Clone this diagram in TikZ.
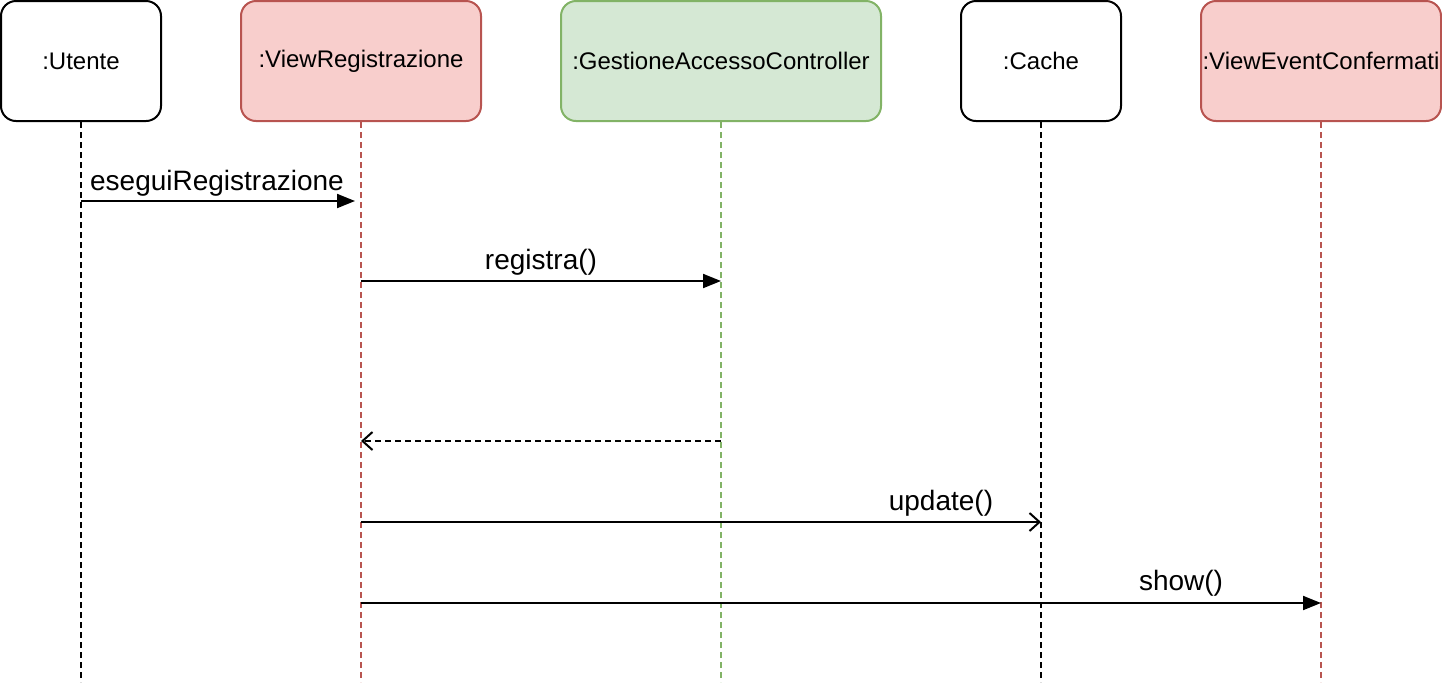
\documentclass[tikz,border=0pt]{standalone}
\usepackage{fontspec}
\setmainfont{Liberation Sans}
\usetikzlibrary{arrows.meta}
\definecolor{redfill}{HTML}{F8CECC}
\definecolor{redline}{HTML}{B85450}
\definecolor{greenfill}{HTML}{D5E8D4}
\definecolor{greenline}{HTML}{82B366}
\begin{document}
\begin{tikzpicture}[x=0.5pt,y=-0.5pt,
  obj/.style={draw=black,fill=white,line width=1pt,rounded corners=7.5pt,
    minimum height=60pt,inner sep=0pt,font=\fontsize{12pt}{14pt}\selectfont},
  redobj/.style={obj,draw=redline,fill=redfill},
  greenobj/.style={obj,draw=greenline,fill=greenfill},
  life/.style={line width=0.9pt,dash pattern=on 3pt off 2pt},
  msg/.style={line width=1pt,-{Triangle[length=9pt,width=7pt]}},
  ret/.style={line width=1pt,dash pattern=on 3pt off 2pt,-{Straight Barb[length=5pt,width=9pt,line width=1pt]}},
  asyn/.style={line width=1pt,-{Straight Barb[length=5pt,width=9pt,line width=1pt]}},
  lbl/.style={font=\fontsize{14pt}{16pt}\selectfont,anchor=base,inner sep=0pt}]
\useasboundingbox (0,0) rectangle (1442,682);
\node[obj,minimum width=80pt] (u) at (81,61) {:Utente};
\node[redobj,minimum width=120pt] (vr) at (361,61) {:ViewRegistrazione};
\node[greenobj,minimum width=160pt] (gc) at (721,61) {:GestioneAccessoController};
\node[obj,minimum width=80pt] (c) at (1041,61) {:Cache};
\node[redobj,minimum width=120pt] (ve) at (1321,61) {:ViewEventConfermati};
\coordinate (ue) at (81,682);
\coordinate (vre) at (361,682);
\coordinate (gce) at (721,682);
\coordinate (ce) at (1041,682);
\coordinate (vee) at (1321,682);
\draw[life,black] (u.south) -- (ue);
\draw[life,redline] (vr.south) -- (vre);
\draw[life,greenline] (gc.south) -- (gce);
\draw[life,black] (c.south) -- (ce);
\draw[life,redline] (ve.south) -- (vee);
% messages
\draw[msg] (u.south |- 0,201) -- ([xshift=-3pt]vr.south |- 0,201);
\node[lbl] (l1) at (217,190) {eseguiRegistrazione};
\draw[msg] (vr.south |- 0,281) -- (gc.south |- 0,281);
\node[lbl] (l2) at (541,269) {registra()};
\draw[ret] (gc.south |- 0,441) -- (vr.south |- 0,441);
\draw[asyn] (vr.south |- 0,522) -- (c.south |- 0,522);
\node[lbl] (l3) at (941,510) {update()};
\draw[msg] (vr.south |- 0,603) -- (ve.south |- 0,603);
\node[lbl] (l4) at (1181,590) {show()};
\end{tikzpicture}
\end{document}
